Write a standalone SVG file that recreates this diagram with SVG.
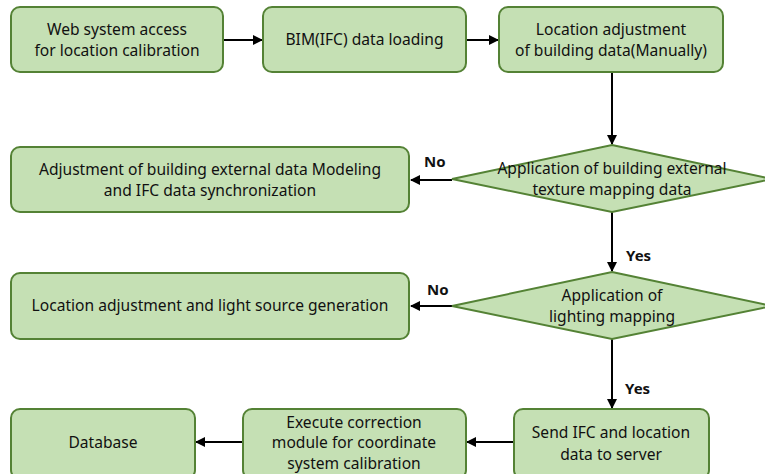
<svg xmlns="http://www.w3.org/2000/svg" width="765" height="474" viewBox="0 0 765 474">
<defs>
<style>
.n{fill:#c5e0b4;stroke:#548235;stroke-width:2}
.t{font-family:"Noto Sans","Liberation Sans",sans-serif;font-size:15.6px;fill:#111;text-anchor:middle}
.l{font-family:"Noto Sans","Liberation Sans",sans-serif;font-size:15px;font-weight:bold;fill:#111}
.c{stroke:#000;stroke-width:2;fill:none;marker-end:url(#ah)}
</style>
<marker id="ah" viewBox="0 0 10 10" refX="9" refY="5" markerWidth="5" markerHeight="5" orient="auto" markerUnits="strokeWidth">
<path d="M0,0L10,5L0,10z" fill="#000"/>
</marker>
</defs>
<g id="connectors">
<path class="c" d="M223,40H262"/>
<path class="c" d="M466,40H498"/>
<path class="c" d="M612,72V144"/>
<path class="c" d="M452,180H411"/>
<path class="c" d="M612,212V271"/>
<path class="c" d="M452,306H411"/>
<path class="c" d="M612,339V408"/>
<path class="c" d="M514,442H467"/>
<path class="c" d="M243,442H196"/>
<text class="l" x="424" y="167">No</text>
<text class="l" x="626" y="261">Yes</text>
<text class="l" x="427" y="295">No</text>
<text class="l" x="625" y="394">Yes</text>
</g>
<g id="n1"><rect class="n" x="11" y="7" width="212" height="65" rx="9"/>
<text class="t" x="117" y="35">Web system access</text><text class="t" x="117" y="56">for location calibration</text></g>
<g id="n2"><rect class="n" x="263" y="7" width="203" height="65" rx="9"/>
<text class="t" x="364.5" y="45">BIM(IFC) data loading</text></g>
<g id="n3"><rect class="n" x="499" y="7" width="224" height="65" rx="9"/>
<text class="t" x="611" y="35">Location adjustment</text><text class="t" x="611" y="56">of building data(Manually)</text></g>
<g id="d1"><path class="n" d="M612,145L772,179L612,212L452,179Z"/>
<text class="t" x="612" y="174">Application of building external</text><text class="t" x="612" y="195">texture mapping data</text></g>
<g id="n4"><rect class="n" x="11" y="147" width="398" height="65" rx="9"/>
<text class="t" x="210" y="175">Adjustment of building external data Modeling</text><text class="t" x="210" y="196">and IFC data synchronization</text></g>
<g id="d2"><path class="n" d="M612,272L772,306L612,339L452,306Z"/>
<text class="t" x="612" y="301">Application of</text><text class="t" x="612" y="322">lighting mapping</text></g>
<g id="n5"><rect class="n" x="11" y="273" width="398" height="66" rx="9"/>
<text class="t" x="210" y="311">Location adjustment and light source generation</text></g>
<g id="n6"><rect class="n" x="514" y="409" width="195" height="70" rx="9"/>
<text class="t" x="611" y="438">Send IFC and location</text><text class="t" x="611" y="460">data to server</text></g>
<g id="n7"><rect class="n" x="243" y="409" width="223" height="70" rx="9"/>
<text class="t" x="354" y="428">Execute correction</text><text class="t" x="354" y="448">module for coordinate</text><text class="t" x="354" y="469">system calibration</text></g>
<g id="n8"><rect class="n" x="11" y="409" width="184" height="70" rx="9"/>
<text class="t" x="103" y="448">Database</text></g>
</svg>
